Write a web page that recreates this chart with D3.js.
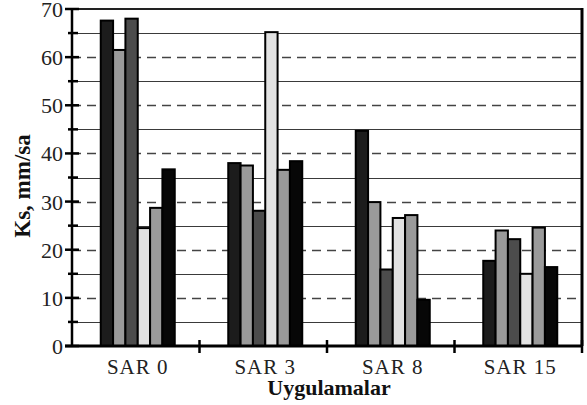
<!DOCTYPE html>
<html>
<head>
<meta charset="utf-8">
<script src="https://cdn.jsdelivr.net/npm/d3@7"></script>
</head>
<body style="margin:0;background:#fff">
<svg id="chart" width="587" height="405" style="display:block;font-family:'Liberation Serif','Times New Roman',serif"></svg>
<script>
// Treatments (SAR levels) along the x axis
const categories = ["SAR 0", "SAR 3", "SAR 8", "SAR 15"];
// Six bar series per treatment
const seriesNames = ["s1", "s2", "s3", "s4", "s5", "s6"];
const seriesColors = ["#1c1c1c", "#9a9a9a", "#4c4c4c", "#e2e2e2", "#9a9a9a", "#070707"];
// Ks (mm/sa) per series, one entry per treatment
const s1 = [67.8, 38.2, 44.9, 17.9];
const s2 = [61.7, 37.7, 30.1, 24.2];
const s3 = [68.2, 28.3, 16.1, 22.4];
const s4 = [24.7, 65.4, 26.8, 15.2];
const s5 = [28.9, 36.8, 27.4, 24.8];
const s6 = [36.9, 38.6, 9.8, 16.6];
const seriesValues = [s1, s2, s3, s4, s5, s6];
const yMajorTicks = [0, 10, 20, 30, 40, 50, 60, 70];
const yMinorTicks = [5, 15, 25, 35, 45, 55, 65];
const xTitle = "Uygulamalar";
const yTitle = "Ks, mm/sa";

const FONT = "'Times New Roman', 'Liberation Serif', serif";
const svg = d3.select("#chart");
const plotL = 72, plotR = 582, plotT = 9, plotB = 346;

const x0 = d3.scaleBand().domain(categories).range([plotL, plotR]).padding(0);
const groupW = 74;
const x1 = d3.scaleBand().domain(seriesNames)
  .range([x0.bandwidth() / 2 - groupW / 2 + 2, x0.bandwidth() / 2 + groupW / 2 + 2]).padding(0);
const y = d3.scaleLinear().domain([0, 70]).range([plotB, plotT]);

// Grid: solid at odd multiples of 5, dashed at multiples of 10
const grid = svg.append("g");
grid.selectAll("line.solid").data(yMinorTicks).join("line")
  .attr("x1", plotL).attr("x2", plotR)
  .attr("y1", d => Math.round(y(d)) + 0.5).attr("y2", d => Math.round(y(d)) + 0.5)
  .attr("stroke", "#3a3a3a").attr("stroke-width", 1.2);
grid.selectAll("line.dash").data(yMajorTicks.filter(d => d > 0 && d < 70)).join("line")
  .attr("x1", plotL).attr("x2", plotR)
  .attr("y1", d => Math.round(y(d)) + 0.5).attr("y2", d => Math.round(y(d)) + 0.5)
  .attr("stroke", "#444").attr("stroke-width", 1.3).attr("stroke-dasharray", "9,6");

// Frame: top and right edges
svg.append("line").attr("x1", plotL).attr("x2", plotR).attr("y1", y(70)).attr("y2", y(70))
  .attr("stroke", "#222").attr("stroke-width", 2);
svg.append("line").attr("x1", plotR).attr("x2", plotR).attr("y1", y(70) - 1).attr("y2", plotB)
  .attr("stroke", "#000").attr("stroke-width", 3);

// Bars
const groups = svg.append("g").selectAll("g").data(categories).join("g")
  .attr("transform", d => `translate(${x0(d)},0)`);
groups.selectAll("rect")
  .data((c, ci) => seriesNames.map((s, si) => ({ s, si, v: seriesValues[si][ci] })))
  .join("rect")
  .attr("x", d => x1(d.s))
  .attr("width", x1.bandwidth())
  .attr("y", d => y(d.v) + 1)
  .attr("height", d => plotB - y(d.v) - 1)
  .attr("fill", d => seriesColors[d.si])
  .attr("stroke", "#000").attr("stroke-width", 2);

// Y axis
const yAxis = svg.append("g").attr("transform", `translate(${plotL},0)`);
yAxis.append("line").attr("x1", 0).attr("x2", 0).attr("y1", plotT).attr("y2", plotB + 1)
  .attr("stroke", "#000").attr("stroke-width", 2.5);
yAxis.selectAll("line.maj").data(yMajorTicks).join("line")
  .attr("x1", -7).attr("x2", 7).attr("y1", d => y(d)).attr("y2", d => y(d))
  .attr("stroke", "#000").attr("stroke-width", 2.5);
yAxis.selectAll("line.min").data(yMinorTicks).join("line")
  .attr("x1", -4).attr("x2", 6).attr("y1", d => y(d)).attr("y2", d => y(d))
  .attr("stroke", "#000").attr("stroke-width", 2.5);
yAxis.selectAll("text").data(yMajorTicks).join("text")
  .attr("x", -9).attr("y", d => y(d) + 8)
  .attr("text-anchor", "end")
  .style("font-family", FONT).style("font-size", "22px")
  .attr("fill", "#222")
  .text(d => d);

// X axis
const xAxis = svg.append("g");
xAxis.append("line").attr("x1", plotL - 7).attr("x2", plotR + 1).attr("y1", plotB).attr("y2", plotB)
  .attr("stroke", "#000").attr("stroke-width", 3);
xAxis.selectAll("line.tick").data(categories.slice(1).map(c => x0(c)).concat([plotR]))
  .join("line")
  .attr("x1", d => d).attr("x2", d => d).attr("y1", plotB - 6).attr("y2", plotB + 7)
  .attr("stroke", "#000").attr("stroke-width", 2.5);
xAxis.selectAll("text").data(categories).join("text")
  .attr("x", d => x0(d) + x0.bandwidth() / 2 + 2)
  .attr("y", 374)
  .attr("text-anchor", "middle")
  .style("font-family", FONT).style("font-size", "21px")
  .style("letter-spacing", "1px")
  .attr("fill", "#222")
  .text(d => d);

// Axis titles
svg.append("text")
  .attr("x", (plotL + plotR) / 2 + 2).attr("y", 395)
  .attr("text-anchor", "middle")
  .style("font-family", FONT).style("font-size", "22px").style("font-weight", "bold")
  .attr("fill", "#111")
  .text(xTitle);
svg.append("text")
  .attr("transform", "translate(30,186) rotate(-90)")
  .attr("text-anchor", "middle")
  .style("font-family", FONT).style("font-size", "23px").style("font-weight", "bold")
  .attr("fill", "#111")
  .text(yTitle);
</script>
</body>
</html>
